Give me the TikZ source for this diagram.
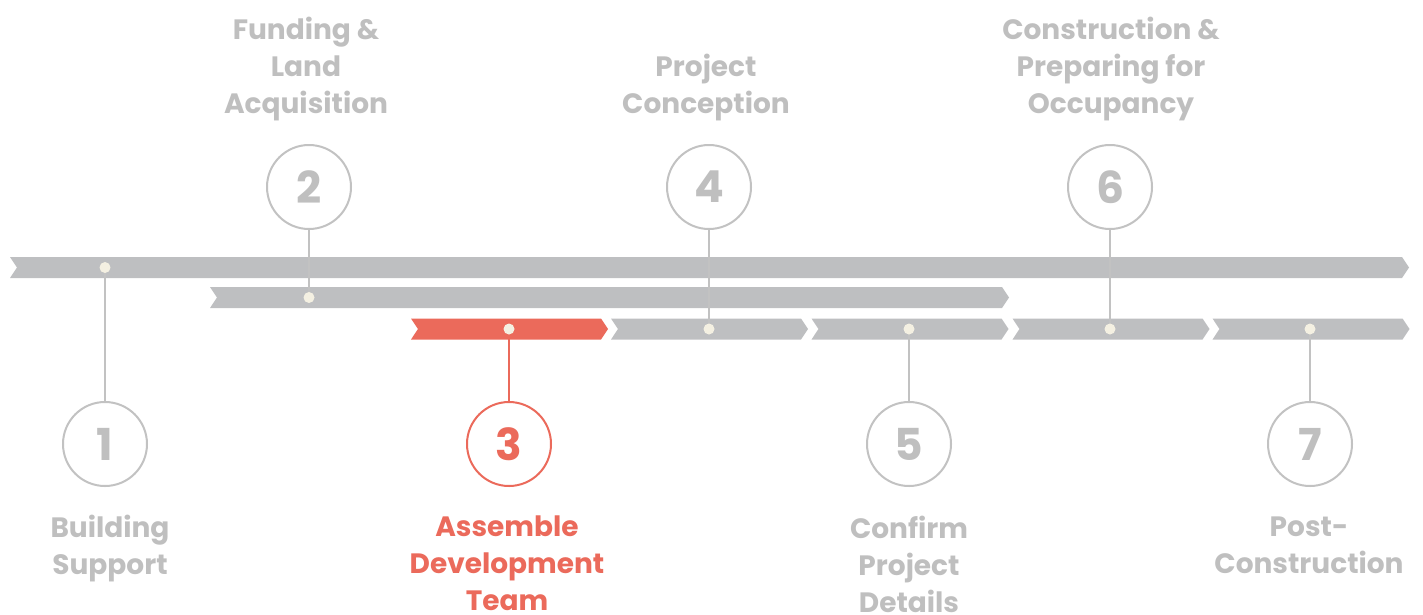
\documentclass[tikz,border=0pt]{standalone}
\usepackage{fontspec}
\setmainfont{Poppins}[BoldFont={Poppins SemiBold}]
\newfontface\heavy{Poppins Bold}
\usetikzlibrary{shapes.symbols}
\definecolor{bargray}{HTML}{BEBFC1}
\definecolor{linegray}{HTML}{C2C2C2}
\definecolor{textgray}{HTML}{BFBFBF}
\definecolor{accent}{HTML}{EB6A5B}
\definecolor{dotcream}{HTML}{F4F0E2}
\tikzset{
    bar/.style={            % chevron shaped bar
        signal,
        signal to=east,
        signal from=west,
        signal pointer angle=113,
        fill=bargray,
        draw=none,
        inner sep=0pt,
        outer sep=0pt,
        minimum height=21pt
    },
    dot/.style={            % small marker on a bar
        circle,
        fill=dotcream,
        inner sep=0pt,
        minimum size=11pt
    },
    milestone/.style={      % numbered circle
        circle,
        draw=linegray,
        line width=2pt,
        fill=white,
        text=textgray,
        minimum size=84pt,
        inner sep=0pt,
        font=\fontsize{44}{44}\selectfont\heavy
    },
    stem/.style={           % line from circle to bar
        draw=linegray,
        line width=2pt
    },
    caption/.style={        % step title, placed at its last baseline
        align=center,
        anchor=base,
        inner sep=0pt,
        text=textgray,
        font=\fontsize{28}{37}\selectfont\heavy
    },
    current/.style={        % highlighted step
        draw=accent,
        text=accent
    }
}
\begin{document}
\begin{tikzpicture}[x=1pt, y=-1pt]
    \useasboundingbox (0,0) rectangle (1423,614);
    % bars
    \node[bar, minimum width=1399pt] (track) at (709.5,267.5) {};
    \node[bar, minimum width=799pt] (funding) at (609.5,297.5) {};
    \node[bar, fill=accent, minimum width=197pt] (seg3) at (509.5,329) {};
    \node[bar, minimum width=197pt] (seg4) at (709.5,329) {};
    \node[bar, minimum width=197pt] (seg5) at (910,329) {};
    \node[bar, minimum width=197pt] (seg6) at (1111,329) {};
    \node[bar, minimum width=197pt] (seg7) at (1311,329) {};
    % circles
    \node[milestone] (c1) at (105,444) {1};
    \node[milestone] (c2) at (309,187) {2};
    \node[milestone, current] (c3) at (509,444) {3};
    \node[milestone] (c4) at (709,187) {4};
    \node[milestone] (c5) at (909,444) {5};
    \node[milestone] (c6) at (1110,187) {6};
    \node[milestone] (c7) at (1310,444) {7};
    % markers
    \coordinate (m1) at (105,267.5);
    \coordinate (m2) at (309,297.5);
    \coordinate (m3) at (509,329);
    \coordinate (m4) at (709,329);
    \coordinate (m5) at (909,329);
    \coordinate (m6) at (1110,329);
    \coordinate (m7) at (1310,329);
    \draw[stem] (c1) -- (m1);
    \draw[stem] (c2) -- (m2);
    \draw[stem, draw=accent] (c3) -- (m3);
    \draw[stem] (c4) -- (m4);
    \draw[stem] (c5) -- (m5);
    \draw[stem] (c6) -- (m6);
    \draw[stem] (c7) -- (m7);
    \foreach \i in {1,...,7}
        \node[dot] (d\i) at (m\i) {};
    % titles
    \node[caption] (t1) at (110,574) {Building\\Support};
    \node[caption] (t2) at (306,113) {Funding \&\\Land\\Acquisition};
    \node[caption, text=accent] (t3) at (507,610) {Assemble\\Development\\Team};
    \node[caption] (t4) at (706,113) {Project\\Conception};
    \node[caption] (t5) at (909,612) {Confirm\\Project\\Details};
    \node[caption] (t6) at (1111,113) {Construction \&\\Preparing for\\Occupancy};
    \node[caption] (t7) at (1309,573) {Post-\\Construction};
\end{tikzpicture}
\end{document}
